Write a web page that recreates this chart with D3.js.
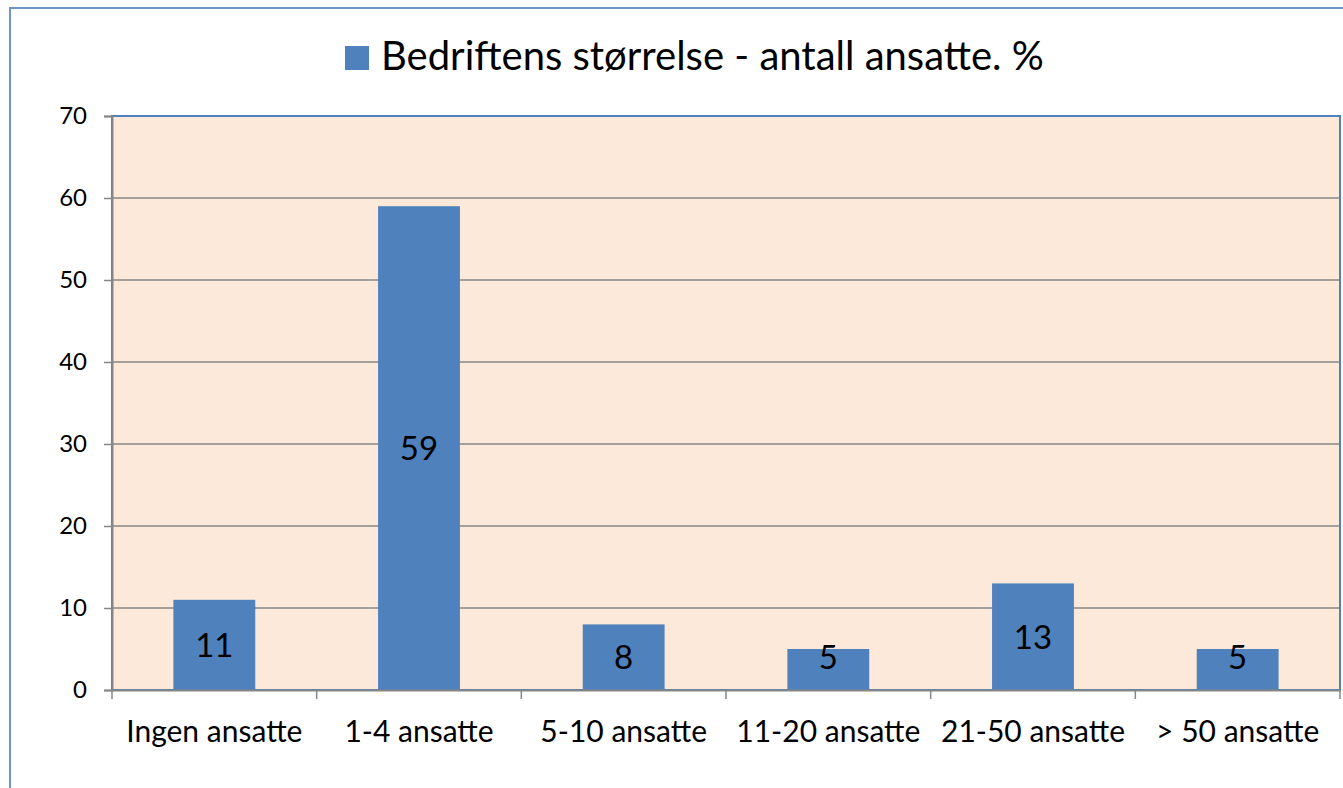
<!DOCTYPE html>
<html>
<head>
<meta charset="utf-8">
<script src="https://cdn.jsdelivr.net/npm/d3@7"></script>
<style>
  body { margin: 0; background: #fff; }
  svg { display: block; font-family: Lato, "Open Sans", sans-serif; }
</style>
</head>
<body>
<svg width="1343" height="788"></svg>
<script>
// ### Data ###
var categories = ['Ingen ansatte', '1-4 ansatte', '5-10 ansatte', '11-20 ansatte', '21-50 ansatte', '> 50 ansatte'];
var values = [11, 59, 8, 5, 13, 5];
var yTicks = [0, 10, 20, 30, 40, 50, 60, 70];
var seriesName = 'Bedriftens størrelse - antall ansatte. %';

var data = categories.map((c, i) => ({cat: c, val: values[i]}));

// ### Canvas ###
var svg = d3.select('svg');
var plot = {left: 112, top: 116, right: 1340, bottom: 690};
var blue = '#4F81BD';
var gray = '#868686';

// outer chart border (runs off the right/bottom edge)
svg.append('rect')
  .attr('x', 10).attr('y', 8)
  .attr('width', 1345).attr('height', 800)
  .attr('fill', '#fff')
  .attr('stroke', '#6F95C9')
  .attr('stroke-width', 2);

// ### Scales ###
var xScale = d3.scaleBand()
  .domain(categories)
  .range([plot.left, plot.right]);

var yScale = d3.scaleLinear()
  .domain([0, 70])
  .range([plot.bottom, plot.top]);

// plot area background + border
svg.append('rect')
  .attr('x', plot.left).attr('y', plot.top)
  .attr('width', plot.right - plot.left)
  .attr('height', plot.bottom - plot.top)
  .attr('fill', '#FDE9D9')
  .attr('stroke', blue)
  .attr('stroke-width', 2);

// gridlines
svg.append('g')
  .selectAll('line')
  .data(yTicks.filter(d => d > 0 && d < 70))
  .enter()
  .append('line')
  .attr('x1', plot.left).attr('x2', plot.right - 1)
  .attr('y1', d => yScale(d)).attr('y2', d => yScale(d))
  .attr('stroke', gray)
  .attr('stroke-width', 1.5);

// ### Bars ###
var barW = xScale.bandwidth() * 0.4;
svg.selectAll('rect.bar')
  .data(data)
  .enter()
  .append('rect')
  .attr('class', 'bar')
  .attr('x', d => xScale(d.cat) + xScale.bandwidth() / 2 - barW / 2)
  .attr('y', d => yScale(d.val))
  .attr('width', barW)
  .attr('height', d => yScale(0) - yScale(d.val))
  .attr('fill', blue);

// data labels, centred in bar (kept off the axis like Excel does)
svg.selectAll('text.lbl')
  .data(data)
  .enter()
  .append('text')
  .attr('class', 'lbl')
  .attr('x', d => xScale(d.cat) + xScale.bandwidth() / 2)
  .attr('y', d => Math.min((yScale(d.val) + yScale(0)) / 2, yScale(0) - 33))
  .attr('dy', '0.36em')
  .attr('text-anchor', 'middle')
  .attr('font-size', 33)
  .attr('fill', '#000')
  .text(d => d.val);

// ### Axes ###
var yAxis = d3.axisLeft(yScale)
  .tickValues(yTicks)
  .tickSize(8)
  .tickPadding(8)
  .tickFormat(d3.format('d'));

var gy = svg.append('g')
  .attr('transform', `translate(${plot.left},0)`)
  .call(yAxis);
gy.select('.domain').attr('stroke', gray).attr('stroke-width', 2);
gy.selectAll('.tick line').attr('stroke', gray).attr('stroke-width', 1.5);
gy.selectAll('.tick text')
  .attr('font-size', 24)
  .attr('font-family', 'Lato, sans-serif')
  .attr('fill', '#000')
  .attr('x', -25)
  .attr('text-anchor', 'end');

var xAxis = d3.axisBottom(xScale)
  .tickSize(0)
  .tickPadding(31);

var gx = svg.append('g')
  .attr('transform', `translate(0,${plot.bottom})`)
  .call(xAxis);
gx.select('.domain').attr('stroke', gray).attr('stroke-width', 2);
gx.selectAll('.tick text')
  .attr('font-size', 30)
  .attr('font-family', 'Lato, sans-serif')
  .attr('fill', '#000');

// category boundary ticks
svg.append('g')
  .selectAll('line')
  .data(d3.range(categories.length + 1))
  .enter()
  .append('line')
  .attr('x1', i => i < categories.length ? xScale(categories[i]) : plot.right)
  .attr('x2', i => i < categories.length ? xScale(categories[i]) : plot.right)
  .attr('y1', plot.bottom)
  .attr('y2', plot.bottom + 9)
  .attr('stroke', gray)
  .attr('stroke-width', 1.5);

// ### Legend / title ###
svg.append('rect')
  .attr('x', 345).attr('y', 46)
  .attr('width', 24).attr('height', 24)
  .attr('fill', blue);

svg.append('text')
  .attr('x', 381).attr('y', 70)
  .attr('font-size', 40)
  .attr('fill', '#000')
  .text(seriesName);
</script>
</body>
</html>
